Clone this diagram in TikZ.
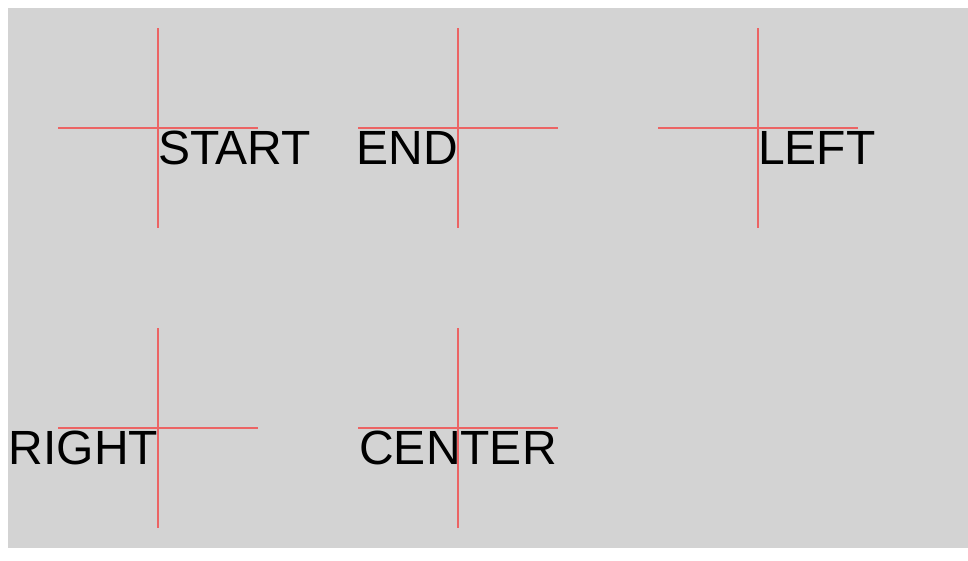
\documentclass[tikz,border=0pt]{standalone}
\usepackage{fontspec}
\setmainfont{Liberation Sans}
\definecolor{bggrey}{RGB}{211,211,211}
\definecolor{crossred}{RGB}{236,100,100}
\tikzset{
  lbl/.style={inner sep=0pt, outer sep=0pt, font=\fontsize{48pt}{48pt}\selectfont, text=black},
  crossline/.style={draw=crossred, line width=1.2pt},
}
\newcommand{\mycross}[2]{%
  \draw[crossline] (#1-100,#2) -- (#1+100,#2);
  \draw[crossline] (#1,#2-100) -- (#1,#2+100);
}
\begin{document}
\begin{tikzpicture}[x=1pt,y=-1pt]
\useasboundingbox (0,0) rectangle (968,560);
\fill[bggrey] (8,8) rectangle (968,548);
\mycross{158}{128}
\mycross{458}{128}
\mycross{758}{128}
\mycross{158}{428}
\mycross{458}{428}
\node[lbl, anchor=base west] (start) at (158,164.5) {START};
\node[lbl, anchor=base east] (end) at (458,164.5) {END};
\node[lbl, anchor=base west] (left) at (758,164.5) {LEFT};
\node[lbl, anchor=base east] (right) at (158,464.5) {RIGHT};
\node[lbl, anchor=base] (center) at (458,464.5) {CENTER};
\end{tikzpicture}
\end{document}
